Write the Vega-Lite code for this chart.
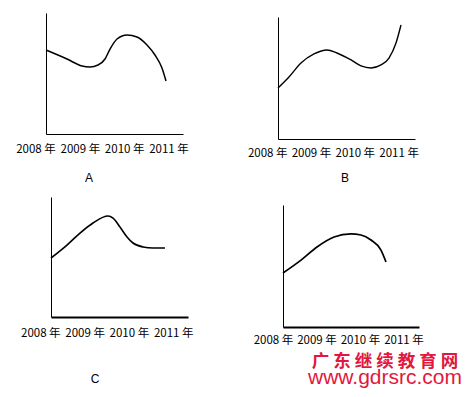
{
  "$schema": "https://vega.github.io/schema/vega-lite/v6.json",
  "background": "white",
  "autosize": {"type": "pad"},
  "padding": {"left": 16, "top": 13, "right": 5, "bottom": 5},
  "spacing": 53,
  "config": {
    "view": {"stroke": null},
    "axis": {"domainColor": "black", "domainWidth": 1, "ticks": false, "labels": false, "grid": false},
    "text": {"color": "black"}
  },
  "hconcat": [
    {
      "vconcat": [
        {
          "width": 137, "height": 121,
          "layer": [
            {
              "data": {"values": [
                {"year": 2008.226, "value": 69.4}, {"year": 2008.699, "value": 62.0}, {"year": 2009.038, "value": 56.2},
                {"year": 2009.219, "value": 55.4}, {"year": 2009.399, "value": 57.0}, {"year": 2009.557, "value": 62.0},
                {"year": 2009.670, "value": 70.2}, {"year": 2009.828, "value": 78.5}, {"year": 2010.053, "value": 81.8},
                {"year": 2010.278, "value": 80.2}, {"year": 2010.504, "value": 73.6}, {"year": 2010.684, "value": 65.3},
                {"year": 2010.842, "value": 54.5}, {"year": 2010.932, "value": 43.8}
              ]},
              "mark": {"type": "line", "interpolate": "monotone", "color": "black", "strokeWidth": 1.5},
              "encoding": {
                "x": {"field": "year", "type": "quantitative", "scale": {"domain": [2008.2256, 2011.316], "nice": false, "zero": false}, "axis": {"title": null, "translate": 0.5}},
                "y": {"field": "value", "type": "quantitative", "scale": {"domain": [0, 100], "nice": false}, "axis": {"title": null, "translate": 0.5}}
              }
            },
            {
              "data": {"values": [
                {"year": 2008, "value": -13.2, "label": "2008 年"}, {"year": 2009, "value": -13.2, "label": "2009 年"},
                {"year": 2010, "value": -13.2, "label": "2010 年"}, {"year": 2011, "value": -13.2, "label": "2011 年"}
              ]},
              "mark": {"type": "text", "font": "Noto Sans CJK SC", "fontSize": 11.5, "baseline": "middle"},
              "encoding": {"x": {"field": "year", "type": "quantitative"}, "y": {"field": "value", "type": "quantitative"}, "text": {"field": "label"}}
            },
            {
              "data": {"values": [{"year": 2009.196, "value": -36.4, "label": "A"}]},
              "mark": {"type": "text", "font": "Liberation Sans", "fontSize": 12, "baseline": "middle"},
              "encoding": {"x": {"field": "year", "type": "quantitative"}, "y": {"field": "value", "type": "quantitative"}, "text": {"field": "label"}}
            }
          ]
        },
        {
          "width": 137, "height": 120,
          "layer": [
            {
              "data": {"values": [
                {"year": 2008.230, "value": 45.0}, {"year": 2008.591, "value": 55.8}, {"year": 2008.885, "value": 65.8},
                {"year": 2009.178, "value": 74.2}, {"year": 2009.517, "value": 80.0}, {"year": 2009.630, "value": 78.3},
                {"year": 2009.788, "value": 70.8}, {"year": 2009.946, "value": 62.5}, {"year": 2010.081, "value": 57.5},
                {"year": 2010.307, "value": 54.2}, {"year": 2010.533, "value": 53.3}, {"year": 2010.804, "value": 53.3}
              ]},
              "mark": {"type": "line", "interpolate": "monotone", "color": "black", "strokeWidth": 1.6},
              "encoding": {
                "x": {"field": "year", "type": "quantitative", "scale": {"domain": [2008.1174, 2011.2099], "nice": false, "zero": false}, "axis": {"title": null, "translate": 5.5, "domainWidth": 2}},
                "y": {"field": "value", "type": "quantitative", "scale": {"domain": [0, 100], "nice": false}, "axis": {"title": null, "translate": 5.5}}
              }
            },
            {
              "data": {"values": [
                {"year": 2008, "value": -18.3, "label": "2008 年"}, {"year": 2009, "value": -18.3, "label": "2009 年"},
                {"year": 2010, "value": -18.3, "label": "2010 年"}, {"year": 2011, "value": -18.3, "label": "2011 年"}
              ]},
              "mark": {"type": "text", "font": "Noto Sans CJK SC", "fontSize": 11.5, "baseline": "middle"},
              "encoding": {"x": {"field": "year", "type": "quantitative"}, "y": {"field": "value", "type": "quantitative"}, "text": {"field": "label"}}
            },
            {
              "data": {"values": [{"year": 2009.2235, "value": -55.8, "label": "C"}]},
              "mark": {"type": "text", "font": "Liberation Sans", "fontSize": 12, "baseline": "middle"},
              "encoding": {"x": {"field": "year", "type": "quantitative"}, "y": {"field": "value", "type": "quantitative"}, "text": {"field": "label"}}
            }
          ]
        }
      ],
      "spacing": 58,
      "bounds": "flush"
    },
    {
      "vconcat": [
        {
          "width": 137, "height": 122,
          "layer": [
            {
              "data": {"values": [
                {"year": 2008.235, "value": 38.5}, {"year": 2008.486, "value": 47.5}, {"year": 2008.760, "value": 59.0},
                {"year": 2009.057, "value": 66.4}, {"year": 2009.354, "value": 69.7}, {"year": 2009.582, "value": 67.2},
                {"year": 2009.902, "value": 61.5}, {"year": 2010.130, "value": 56.6}, {"year": 2010.358, "value": 54.9},
                {"year": 2010.587, "value": 57.4}, {"year": 2010.769, "value": 63.1}, {"year": 2010.929, "value": 75.4},
                {"year": 2011.043, "value": 90.2}
              ]},
              "mark": {"type": "line", "interpolate": "monotone", "color": "black", "strokeWidth": 1.4},
              "encoding": {
                "x": {"field": "year", "type": "quantitative", "scale": {"domain": [2008.1438, 2011.2717], "nice": false, "zero": false}, "axis": {"title": null, "translate": 4.5}},
                "y": {"field": "value", "type": "quantitative", "scale": {"domain": [0, 100], "nice": false}, "axis": {"title": null, "translate": 4.5}}
              }
            },
            {
              "data": {"values": [
                {"year": 2008, "value": -15.6, "label": "2008 年"}, {"year": 2009, "value": -15.6, "label": "2009 年"},
                {"year": 2010, "value": -15.6, "label": "2010 年"}, {"year": 2011, "value": -15.6, "label": "2011 年"}
              ]},
              "mark": {"type": "text", "font": "Noto Sans CJK SC", "fontSize": 11.5, "baseline": "middle"},
              "encoding": {"x": {"field": "year", "type": "quantitative"}, "y": {"field": "value", "type": "quantitative"}, "text": {"field": "label"}}
            },
            {
              "data": {"values": [{"year": 2009.765, "value": -35.2, "label": "B"}]},
              "mark": {"type": "text", "font": "Liberation Sans", "fontSize": 12, "baseline": "middle"},
              "encoding": {"x": {"field": "year", "type": "quantitative"}, "y": {"field": "value", "type": "quantitative"}, "text": {"field": "label"}}
            }
          ]
        },
        {
          "width": 136, "height": 122,
          "layer": [
            {
              "data": {"values": [
                {"year": 2008.218, "value": 36.9}, {"year": 2008.632, "value": 47.5}, {"year": 2009.000, "value": 58.2},
                {"year": 2009.391, "value": 66.4}, {"year": 2009.782, "value": 68.9}, {"year": 2010.011, "value": 68.0},
                {"year": 2010.241, "value": 63.9}, {"year": 2010.471, "value": 55.7}, {"year": 2010.586, "value": 45.9}
              ]},
              "mark": {"type": "line", "interpolate": "monotone", "color": "black", "strokeWidth": 1.7},
              "encoding": {
                "x": {"field": "year", "type": "quantitative", "scale": {"domain": [2008.0115, 2011.1379], "nice": false, "zero": false}, "axis": {"title": null, "translate": 9.5, "domainWidth": 2}},
                "y": {"field": "value", "type": "quantitative", "scale": {"domain": [0, 100], "nice": false}, "axis": {"title": null, "translate": 9.5}}
              }
            },
            {
              "data": {"values": [
                {"year": 2008, "value": -19.1, "label": "2008 年"}, {"year": 2009, "value": -19.1, "label": "2009 年"},
                {"year": 2010, "value": -19.1, "label": "2010 年"}, {"year": 2011, "value": -19.1, "label": "2011 年"}
              ]},
              "mark": {"type": "text", "font": "Noto Sans CJK SC", "fontSize": 11.5, "baseline": "middle"},
              "encoding": {"x": {"field": "year", "type": "quantitative"}, "y": {"field": "value", "type": "quantitative"}, "text": {"field": "label"}}
            },
            {
              "data": {"values": [{"year": 2010.563, "value": -36.0, "label": "广 东 继 续 教 育 网"}]},
              "mark": {"type": "text", "font": "Noto Sans CJK SC", "fontWeight": "bold", "fontSize": 17.5, "baseline": "middle", "color": "#e3173e"},
              "encoding": {"x": {"field": "year", "type": "quantitative"}, "y": {"field": "value", "type": "quantitative"}, "text": {"field": "label"}}
            },
            {
              "data": {"values": [{"year": 2010.563, "value": -54.3, "label": "www.gdrsrc.com"}]},
              "mark": {"type": "text", "font": "Liberation Sans", "fontSize": 21, "baseline": "alphabetic", "color": "#e3173e"},
              "encoding": {"x": {"field": "year", "type": "quantitative"}, "y": {"field": "value", "type": "quantitative"}, "text": {"field": "label"}}
            }
          ]
        }
      ],
      "spacing": 61,
      "bounds": "flush"
    }
  ]
}
